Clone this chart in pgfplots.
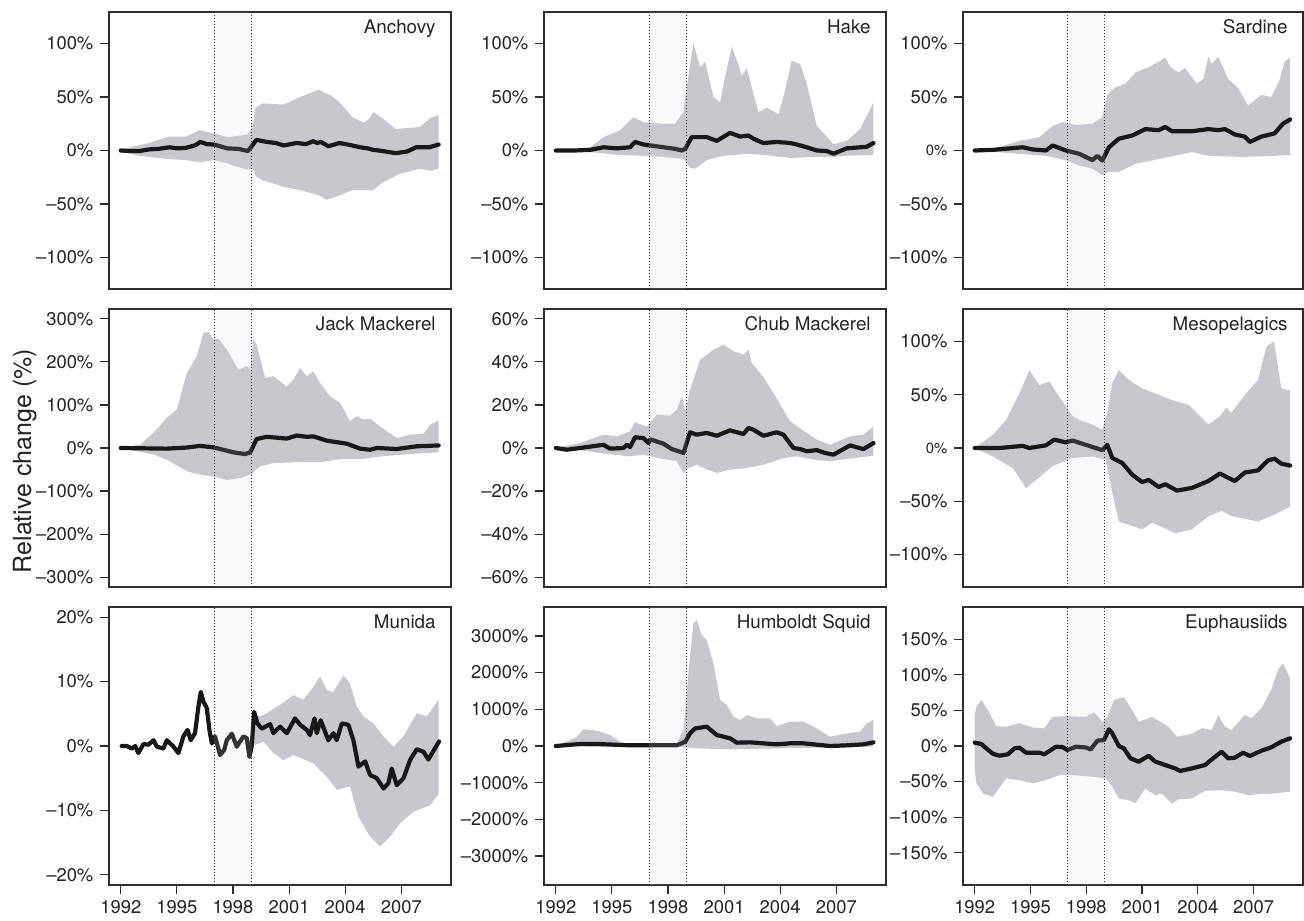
\documentclass[border=0pt]{standalone}
\usepackage{pgfplots}
\pgfplotsset{compat=1.18}
\usepgfplotslibrary{fillbetween}
\usepackage{fontspec}
\setmainfont{TeX Gyre Heros}

\definecolor{bandgray}{RGB}{199,200,205}
\definecolor{medline}{RGB}{24,24,24}
\definecolor{ninoshade}{RGB}{205,212,226}
\definecolor{framec}{RGB}{45,45,45}
\definecolor{labelc}{RGB}{35,35,35}

\newcommand{\tickfont}{\fontsize{9.2}{11}\selectfont}
\newcommand{\titlefont}{\fontsize{9.4}{11}\selectfont}
\newcommand{\smallzero}{{\fontsize{7.4}{9}\selectfont 0\%}}

\pgfplotsset{
  panel/.style={
    scale only axis, anchor=south west,
    width=171pt, height=139pt,
    xmin=1991.37, xmax=2009.66,
    axis line style={draw=framec, line width=0.9pt},
    tick pos=left, tick align=outside,
    major tick length=4.3pt,
    tick style={draw=framec, line width=0.55pt},
    xtick=\empty,
    ticklabel style={font=\tickfont, text=labelc},
  },
  bottomrow/.style={
    xtick={1992,1995,1998,2001,2004,2007},
    xticklabels={1992,1995,1998,2001,2004,2007},
  },
  median/.style={draw=medline, line width=2.1pt, line join=round, line cap=round},
}

% El Nino 1997-1999 window, drawn over the data
\newcommand{\ninowindow}{%
  \fill[ninoshade, fill opacity=0.14]
    ({axis cs:1997,0} |- {rel axis cs:0,0}) rectangle ({axis cs:1999,0} |- {rel axis cs:0,1});
  \draw[framec, densely dotted, line width=0.5pt]
    ({axis cs:1997,0} |- {rel axis cs:0,0}) -- ({axis cs:1997,0} |- {rel axis cs:0,1});
  \draw[framec, densely dotted, line width=0.5pt]
    ({axis cs:1999,0} |- {rel axis cs:0,0}) -- ({axis cs:1999,0} |- {rel axis cs:0,1});
}
\newcommand{\paneltitle}[1]{%
  \node[anchor=north east, inner sep=0pt, xshift=-7.5pt, yshift=-3.5pt, font=\titlefont, text=labelc]
    at (rel axis cs:1,1) {#1};
}

\begin{document}
\begin{tikzpicture}

% ---------------- Anchovy ----------------
\begin{axis}[panel, at={(54.5pt,311.5pt)}, height=138.5pt,
  ymin=-129.5, ymax=129.5, ytick={-100,-50,0,50,100},
  yticklabels={–100\%,–50\%,0\%,50\%,100\%}]
\addplot[draw=none, name path=hi] coordinates {(1992,0) (1992.5,3) (1993,5) (1993.5,7) (1994,10) (1994.6,13) (1995.5,13) (1996.2,19) (1997,16) (1997.7,12.5) (1998,13) (1998.8,15) (1999.05,22) (1999.2,40) (1999.6,44) (2000.7,43) (2001.6,50) (2002.6,57) (2003.0,53) (2003.2,52) (2003.7,45) (2004.4,31) (2005.0,26) (2005.3,30) (2005.5,36) (2006.0,30) (2006.7,20) (2007.3,21) (2008.0,22) (2008.6,31) (2009.0,33)};
\addplot[draw=none, name path=lo] coordinates {(1992,0) (1992.5,-3) (1993,-5) (1993.5,-6) (1994,-7) (1994.6,-8) (1995.5,-9) (1996.2,-11) (1997,-9) (1997.7,-12) (1998,-14) (1998.8,-18) (1999.05,-16) (1999.2,-24) (1999.6,-28) (2000,-30) (2000.7,-34) (2001.6,-37) (2002.6,-42) (2003,-46) (2003.7,-42) (2004.4,-37) (2005.5,-37) (2006,-30) (2006.9,-22) (2008,-17) (2008.6,-19) (2009,-17)};
\addplot[bandgray, draw=none] fill between[of=hi and lo];
\addplot[median] coordinates {(1992.0,0) (1992.5,-0.5) (1993.0,-0.5) (1993.5,1) (1994.0,1.5) (1994.6,3) (1995.0,2) (1995.5,2.5) (1996.0,5) (1996.25,8) (1996.6,6) (1997.0,5.5) (1997.7,2) (1998.3,1.5) (1998.8,-0.5) (1999.0,4) (1999.25,10) (1999.8,8) (2000.3,7) (2000.7,4.7) (2001.4,7) (2001.9,6) (2002.3,8.7) (2002.5,7) (2002.7,8) (2003.1,4) (2003.7,7) (2004.3,5) (2004.8,3) (2005.2,2) (2005.5,0.6) (2006.0,-0.5) (2006.7,-2.5) (2007.3,-1) (2007.8,3) (2008.5,3) (2009.0,5.6)};
\ninowindow
\paneltitle{Anchovy}
\end{axis}

% ---------------- Hake ----------------
\begin{axis}[panel, at={(272pt,311.5pt)}, height=138.5pt,
  ymin=-129.5, ymax=129.5, ytick={-100,-50,0,50,100},
  yticklabels={–100\%,–50\%,0\%,50\%,100\%}]
\addplot[draw=none, name path=hi] coordinates {(1992,0) (1993,1) (1993.84,3) (1994.55,12.5) (1995.44,19) (1996.15,31) (1996.69,26.5) (1997.76,25) (1998.38,25) (1998.83,36) (1999.0,59) (1999.36,100) (1999.72,78) (1999.99,83) (2000.43,50) (2000.79,45) (2001.05,69) (2001.41,97) (2001.77,80) (2001.95,70) (2002.21,77) (2002.48,59) (2002.84,36) (2003.28,40) (2003.91,34) (2004.26,56) (2004.62,84) (2005.07,81) (2005.42,62.5) (2005.96,23) (2006.85,6) (2007.56,9) (2008.27,20) (2008.99,45)};
\addplot[draw=none, name path=lo] coordinates {(1992,0) (1993.84,-1.5) (1995.26,-4) (1996.69,-5) (1997.76,-6) (1998.83,-8) (1999.18,-16) (1999.45,-17) (2000.07,-9) (2000.96,-5) (2002.21,-3) (2003.1,-4) (2004.53,-7) (2005.78,-6) (2006.85,-6) (2007.56,-5) (2008.99,-4)};
\addplot[bandgray, draw=none] fill between[of=hi and lo];
\addplot[median] coordinates {(1992,0) (1993,0) (1993.84,0.6) (1994.55,3) (1995.26,2) (1995.97,3) (1996.24,8) (1996.69,5.6) (1997.76,3) (1998.4,1.5) (1998.74,0) (1998.92,1.5) (1999.27,12.5) (2000.07,12.5) (2000.61,9) (2001.32,16.5) (2001.86,13) (2002.3,14) (2002.57,11) (2003.1,7) (2003.82,8) (2004.53,7) (2004.89,5.6) (2005.42,3) (2005.96,0) (2006.49,-0.5) (2006.85,-3) (2007.56,2) (2008.27,3) (2008.63,3.5) (2008.99,7)};
\ninowindow
\paneltitle{Hake}
\end{axis}

% ---------------- Sardine ----------------
\begin{axis}[panel, at={(481.5pt,311.5pt)}, height=138.5pt, width=170pt,
  ymin=-129.5, ymax=129.5, ytick={-100,-50,0,50,100},
  yticklabels={–100\%,–50\%,\smallzero,50\%,100\%}]
\addplot[draw=none, name path=hi] coordinates {(1992,0) (1992.98,1.5) (1994.41,9) (1995.48,12.5) (1996.19,23) (1996.72,26.5) (1997.43,24) (1998.33,25) (1998.86,31) (1999.13,52) (1999.58,59) (2000.11,62.5) (2000.65,73) (2001.36,78) (2001.89,83) (2002.25,87) (2002.52,78) (2002.96,73) (2003.32,77) (2003.94,62.5) (2004.3,67) (2004.57,87.5) (2004.75,81) (2005.1,87.5) (2005.64,67) (2006.17,58) (2006.71,42) (2007.42,52) (2007.95,50) (2008.4,66) (2008.67,83) (2008.97,87)};
\addplot[draw=none, name path=lo] coordinates {(1992,0) (1993.87,-2.5) (1995.83,-5) (1996.9,-9) (1997.61,-14) (1998.33,-17) (1998.86,-23) (1999.22,-20) (1999.75,-20) (2000.65,-12.5) (2001.89,-8) (2003.68,-1.5) (2004.57,-5) (2006.35,-6) (2008.13,-5) (2008.97,-4)};
\addplot[bandgray, draw=none] fill between[of=hi and lo];
\addplot[median] coordinates {(1992,0) (1992.98,0.6) (1994.58,3) (1995.12,1) (1995.83,0) (1996.19,4.7) (1996.9,0) (1997.61,-3) (1998.33,-9) (1998.6,-5) (1998.86,-9.4) (1999.22,3) (1999.75,11) (2000.47,14) (2001.18,20) (2001.89,19) (2002.25,22) (2002.61,18) (2003.68,18) (2004.57,20) (2005.1,19) (2005.46,20) (2005.99,15) (2006.53,13) (2006.8,8) (2007.42,13) (2008.13,16) (2008.58,25) (2008.97,29)};
\ninowindow
\paneltitle{Sardine}
\end{axis}

% ---------------- Jack Mackerel ----------------
\begin{axis}[panel, at={(54.5pt,162.5pt)},
  ymin=-323, ymax=323, ytick={-300,-200,-100,0,100,200,300},
  yticklabels={–300\%,–200\%,–100\%,0\%,100\%,200\%,300\%}]
\addplot[draw=none, name path=hi] coordinates {(1992,0) (1993.03,8) (1993.75,35) (1994.46,70) (1994.99,89) (1995.53,174) (1996.06,213) (1996.42,267) (1996.69,270) (1996.96,252) (1997.22,254) (1997.67,229) (1998.29,182) (1998.74,190) (1998.92,182) (1999.09,252) (1999.27,240) (1999.72,163) (2000.16,167) (2000.88,143) (2001.23,159) (2001.59,186) (2001.95,167) (2002.3,178) (2002.66,151) (2003.19,120) (2003.73,105) (2004.26,62) (2004.62,74) (2004.98,66) (2005.33,68) (2005.87,50) (2006.76,23) (2007.47,31) (2008.19,33) (2008.54,54) (2009,64)};
\addplot[draw=none, name path=lo] coordinates {(1992,0) (1993.75,-15) (1994.46,-27) (1995.53,-54) (1996.24,-62) (1996.96,-66) (1997.67,-74) (1998.38,-70) (1998.92,-62) (1999.45,-43) (2000.16,-35) (2001.59,-33) (2002.66,-33) (2003.73,-26) (2004.8,-26) (2006.05,-19) (2007.83,-13) (2009,-10)};
\addplot[bandgray, draw=none] fill between[of=hi and lo];
\addplot[median] coordinates {(1992,0) (1994.46,-1.5) (1995.5,1) (1996.24,5) (1996.96,1.5) (1998.02,-10) (1998.65,-14) (1998.92,-10) (1999.27,21) (1999.81,26) (2000.88,22) (2001.41,29) (2001.95,26) (2002.3,27) (2003.02,17) (2004.09,10) (2004.8,-1.5) (2005.33,-4) (2005.69,0) (2006.76,-2.3) (2007.83,4) (2009,6)};
\ninowindow
\paneltitle{Jack Mackerel}
\end{axis}

% ---------------- Chub Mackerel ----------------
\begin{axis}[panel, at={(272pt,162.5pt)},
  ymin=-64.6, ymax=64.6, ytick={-60,-40,-20,0,20,40,60},
  yticklabels={–60\%,–40\%,–20\%,0\%,20\%,40\%,60\%}]
\addplot[draw=none, name path=hi] coordinates {(1992,0) (1993.3,2.3) (1994.55,6.2) (1995.26,5.4) (1995.97,7.8) (1996.24,12) (1996.87,10) (1997.4,15.5) (1998.11,15) (1998.47,17.8) (1998.74,24) (1998.92,17) (1999.18,27) (1999.72,41) (2000.43,45.7) (2000.97,48) (2001.5,45) (2002.04,43.4) (2002.3,45.7) (2002.48,39.5) (2003.1,33) (2003.64,25.6) (2004.53,12.4) (2005.42,7) (2005.96,3.9) (2006.67,1.5) (2007.74,5.4) (2008.45,6.2) (2008.99,10)};
\addplot[draw=none, name path=lo] coordinates {(1992,0) (1993.3,-1) (1994.55,-2.6) (1995.97,-3.9) (1996.69,-3.1) (1997.05,-3.9) (1997.76,-5.1) (1998.47,-6.2) (1998.83,-11.6) (1999.1,-9.3) (1999.54,-7.8) (2000.07,-10) (2000.61,-11.6) (2001.32,-10) (2002.21,-9.3) (2003.1,-7.8) (2004.17,-4.7) (2004.89,-3.9) (2005.78,-5.4) (2006.67,-6.2) (2007.56,-5.1) (2008.99,-3.6)};
\addplot[bandgray, draw=none] fill between[of=hi and lo];
\addplot[median] coordinates {(1992,0) (1992.59,-0.8) (1993.3,0) (1994.55,1.5) (1994.9,-0.3) (1995.62,0) (1995.8,1.5) (1995.97,0.4) (1996.24,5) (1996.69,4.6) (1996.96,2.3) (1997.05,4) (1997.76,2) (1998.2,-0.5) (1998.56,-1.5) (1998.83,-2.3) (1999.18,7.3) (1999.54,6.2) (2000.07,7) (2000.61,5.7) (2001.32,8.2) (2002.04,6.5) (2002.3,9.3) (2002.57,8.5) (2003.1,5.7) (2003.82,7.3) (2004.17,6.2) (2004.71,0) (2005.07,-0.5) (2005.42,-1.5) (2005.96,-1) (2006.4,-2.3) (2006.85,-3.1) (2007.74,1.2) (2008.45,-0.5) (2008.99,2.3)};
\ninowindow
\paneltitle{Chub Mackerel}
\end{axis}

% ---------------- Mesopelagics ----------------
\begin{axis}[panel, at={(481.5pt,162.5pt)}, width=170pt,
  ymin=-130.5, ymax=130.5, ytick={-100,-50,0,50,100},
  yticklabels={–100\%,–50\%,\smallzero,50\%,100\%}]
\addplot[draw=none, name path=hi] coordinates {(1992,0) (1992.98,12.5) (1993.69,26.5) (1994.41,51.5) (1994.94,73) (1995.48,59) (1996.01,62.5) (1996.55,48) (1997.26,30) (1997.79,25) (1998.33,22) (1998.86,17) (1999.13,33) (1999.4,61) (1999.75,73) (2000.29,64) (2001.0,56) (2001.89,50) (2002.61,45) (2003.5,40.6) (2004.57,22) (2005.19,30) (2005.55,38) (2005.81,33) (2006.53,50) (2007.24,64) (2007.69,95) (2008.1,100) (2008.49,56) (2008.97,54)};
\addplot[draw=none, name path=lo] coordinates {(1992,0) (1992.98,-8) (1994.05,-19) (1994.76,-37.5) (1995.3,-30) (1996.19,-17) (1997.26,-9.4) (1998.33,-8) (1999.04,-11) (1999.4,-42) (1999.75,-69) (2000.47,-73) (2001.0,-76.5) (2001.54,-70) (2002.78,-80) (2003.68,-76.5) (2004.57,-64) (2005.28,-59) (2005.81,-64) (2007.24,-69) (2008.13,-62.5) (2008.97,-55)};
\addplot[bandgray, draw=none] fill between[of=hi and lo];
\addplot[median] coordinates {(1992,0) (1993.34,0) (1994.58,2) (1994.94,0) (1995.83,2.5) (1996.28,7.8) (1996.9,5.3) (1997.26,7) (1998.15,2) (1998.86,-2) (1999.13,3) (1999.4,-9.4) (1999.93,-14) (2000.47,-25) (2001.0,-32) (2001.36,-30) (2001.89,-36.6) (2002.25,-34) (2002.87,-40) (2003.68,-37.5) (2004.57,-31) (2005.19,-24) (2005.99,-31) (2006.53,-23) (2007.24,-21) (2007.78,-11.6) (2008.13,-10) (2008.49,-14.7) (2008.97,-16.5)};
\ninowindow
\paneltitle{Mesopelagics}
\end{axis}

% ---------------- Munida ----------------
\begin{axis}[panel, bottomrow, at={(54.5pt,13.5pt)},
  ymin=-21.6, ymax=21.6, ytick={-20,-10,0,10,20},
  yticklabels={–20\%,–10\%,0\%,10\%,20\%}]
\addplot[draw=none, name path=hi] coordinates {(1999.05,5) (1999.45,4.6) (1999.81,5.1) (2000.52,6.4) (2001.23,7.9) (2001.77,7.2) (2002.3,9.2) (2002.66,10.8) (2003.02,8.7) (2003.37,8.4) (2003.91,11) (2004.26,9.7) (2004.62,6.1) (2004.98,4.6) (2005.51,3.5) (2006.05,1.5) (2006.58,-0.1) (2007.12,1.5) (2007.83,5.1) (2008.37,4.6) (2009.0,7.2)};
\addplot[draw=none, name path=lo] coordinates {(1999.05,0) (1999.63,0.7) (2000.16,-1.1) (2000.7,-2.2) (2001.23,-1.4) (2002.3,-2.7) (2003.02,-4.8) (2003.55,-6.8) (2004.26,-6.3) (2004.71,-11) (2005.33,-14.1) (2005.87,-15.6) (2006.4,-14.1) (2006.94,-12) (2007.65,-10.2) (2008.54,-9.2) (2009.0,-7.4)};
\addplot[bandgray, draw=none] fill between[of=hi and lo];
\addplot[median] coordinates {(1992.05,0) (1992.32,0) (1992.59,-0.4) (1992.77,0) (1992.94,-1.1) (1993.21,0.3) (1993.48,0.2) (1993.75,0.9) (1993.93,-0.1) (1994.28,-0.4) (1994.46,0.9) (1994.82,-0.1) (1995.08,-1.1) (1995.35,1.5) (1995.57,2.5) (1995.74,0.9) (1995.97,2) (1996.15,6.1) (1996.28,8.4) (1996.42,6.9) (1996.6,5.9) (1996.74,2.5) (1996.87,0.4) (1997.04,1.5) (1997.31,-1.4) (1997.53,-0.6) (1997.67,0.9) (1997.94,1.9) (1998.2,-0.1) (1998.56,1.5) (1998.74,1.2) (1998.88,-1.7) (1999.0,0) (1999.13,5.3) (1999.31,3.5) (1999.54,2.7) (1999.99,3.4) (2000.16,2) (2000.52,3) (2000.88,2) (2001.32,4.3) (2001.59,3.3) (2001.95,2.5) (2002.12,1.7) (2002.36,4.3) (2002.48,2) (2002.69,4) (2003.1,0.9) (2003.37,2) (2003.55,0.9) (2003.82,3.5) (2004.17,3.3) (2004.44,0.9) (2004.71,-3.2) (2005.07,-2.4) (2005.33,-4.5) (2005.69,-5) (2006.05,-6.6) (2006.31,-5.8) (2006.49,-3.5) (2006.76,-6.1) (2007.12,-5) (2007.47,-2.2) (2007.83,-0.5) (2008.19,-0.9) (2008.45,-2.1) (2009.02,0.7)};
\ninowindow
\paneltitle{Munida}
\end{axis}

% ---------------- Humboldt Squid ----------------
\begin{axis}[panel, bottomrow, at={(272pt,13.5pt)},
  ymin=-3790, ymax=3790, ytick={-3000,-2000,-1000,0,1000,2000,3000},
  yticklabels={–3000\%,–2000\%,–1000\%,0\%,1000\%,2000\%,3000\%}]
\addplot[draw=none, name path=hi] coordinates {(1992,0) (1992.77,164) (1993.12,255) (1993.48,455) (1994.19,418) (1994.9,300) (1995.44,118) (1995.8,27) (1997.76,25) (1998.47,73) (1998.83,436) (1999.09,1980) (1999.36,3345) (1999.54,3436) (1999.81,3027) (2000.07,2890) (2000.43,2254) (2000.79,1254) (2001.14,1118) (2001.5,800) (2001.86,709) (2002.21,845) (2002.75,755) (2003.46,755) (2003.82,545) (2004.53,664) (2005.24,664) (2005.78,527) (2006.67,255) (2007.56,345) (2008.27,390) (2008.63,618) (2008.99,709)};
\addplot[draw=none, name path=lo] coordinates {(1992,0) (1994.19,-18) (1998.6,-18) (1999.54,-64) (2001.32,-91) (2003.1,-73) (2004.9,-55) (2006.67,-36) (2008.99,-18)};
\addplot[bandgray, draw=none] fill between[of=hi and lo];
\addplot[median] coordinates {(1992,0) (1993.3,55) (1994.19,55) (1995.97,18) (1997.76,18) (1998.47,18) (1998.92,118) (1999.18,345) (1999.45,480) (2000.07,527) (2000.61,300) (2001.32,209) (2001.68,91) (2002.39,100) (2003.1,73) (2003.82,45) (2004.53,73) (2005.24,73) (2006.67,0) (2007.56,18) (2008.45,45) (2008.99,100)};
\ninowindow
\paneltitle{Humboldt Squid}
\end{axis}

% ---------------- Euphausiids ----------------
\begin{axis}[panel, bottomrow, at={(481.5pt,13.5pt)}, width=170pt,
  ymin=-195, ymax=195, ytick={-150,-100,-50,0,50,100,150},
  yticklabels={–150\%,–100\%,–50\%,0\%,50\%,100\%,150\%}]
\addplot[draw=none, name path=hi] coordinates {(1992,43.6) (1992.09,55) (1992.36,64.7) (1992.71,50.6) (1993.16,28) (1993.69,27) (1994.41,31.9) (1995.12,26) (1995.74,24.8) (1996.19,41) (1996.9,42) (1997.97,41) (1998.42,47) (1998.86,34) (1999.13,41) (1999.49,64.7) (2000.02,68.4) (2000.47,50.6) (2000.82,34) (2001.54,41) (2002.43,27) (2002.87,13) (2003.68,17) (2004.21,25) (2004.75,22.5) (2005.1,43.6) (2005.46,27) (2005.81,22.5) (2006.53,43.6) (2006.88,39) (2007.42,53) (2007.95,78.8) (2008.31,107) (2008.58,116) (2008.97,95)};
\addplot[draw=none, name path=lo] coordinates {(1992,-33.8) (1992.09,-52.5) (1992.45,-66.6) (1992.98,-71.3) (1993.69,-45.5) (1994.41,-47.8) (1995.12,-52.5) (1995.83,-47.8) (1996.55,-40.8) (1997.26,-40.8) (1998.33,-43) (1999.04,-45.5) (1999.4,-57) (1999.75,-73.6) (2000.29,-76) (2000.65,-80.6) (2001.18,-59.5) (2001.71,-69) (2002.07,-66.6) (2002.61,-80.6) (2002.96,-75) (2003.68,-73.6) (2004.39,-62.8) (2005.28,-62) (2005.99,-64) (2006.71,-69) (2007.24,-67.5) (2008.13,-66.6) (2008.97,-64)};
\addplot[bandgray, draw=none] fill between[of=hi and lo];
\addplot[median] coordinates {(1992,4.7) (1992.36,2.8) (1992.62,-3.3) (1992.98,-11) (1993.34,-13.6) (1993.78,-11.7) (1994.14,-3.3) (1994.41,-2.3) (1994.76,-9.4) (1995.48,-9.4) (1995.74,-11.7) (1996.37,-1) (1996.72,-1.5) (1996.99,-5.6) (1997.44,-1) (1997.97,-2) (1998.24,-4.7) (1998.6,7.5) (1998.95,8.4) (1999.22,23.4) (1999.4,17.8) (1999.75,0) (2000.02,-3.3) (2000.38,-17.3) (2000.82,-22) (2001.36,-13.6) (2001.71,-22) (2002.25,-26.7) (2002.78,-31.4) (2003.05,-35) (2003.68,-31.4) (2004.39,-26.7) (2004.75,-18.8) (2005.28,-8) (2005.64,-17.3) (2005.99,-16.4) (2006.44,-9.4) (2006.8,-14) (2007.42,-6.6) (2007.95,-1.9) (2008.49,6.1) (2008.97,10.8)};
\ninowindow
\paneltitle{Euphausiids}
\end{axis}

\node[rotate=90, anchor=base, font=\fontsize{12.5}{14}\selectfont, text=labelc] at (15.5pt,225.5pt) {Relative change (\%)};
\path (0,0) rectangle (652pt,456pt);
\end{tikzpicture}
\end{document}
